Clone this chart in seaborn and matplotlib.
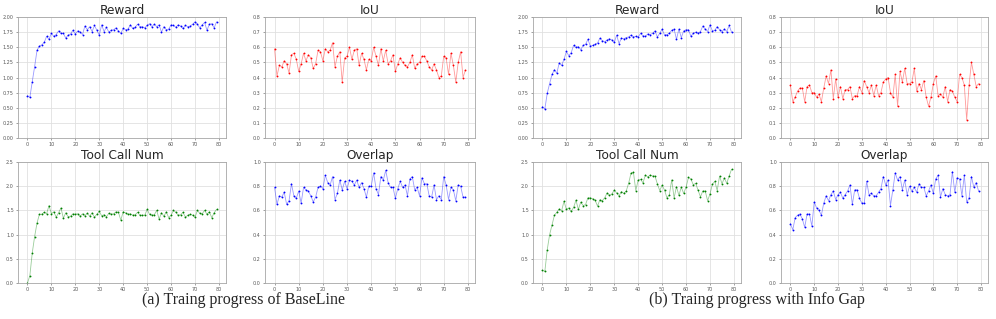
import numpy as np
import pandas as pd
import seaborn as sns
import matplotlib.pyplot as plt

# 数据：从图中估读，每条曲线 80 个点
steps = np.arange(80)

base_reward = [0.70, 0.67, 0.93, 1.18, 1.45, 1.52, 1.54, 1.58, 1.68, 1.63,
               1.73, 1.68, 1.71, 1.77, 1.73, 1.73, 1.65, 1.70, 1.72, 1.78,
               1.72, 1.77, 1.75, 1.71, 1.85, 1.79, 1.84, 1.76, 1.86, 1.78,
               1.70, 1.87, 1.76, 1.83, 1.75, 1.78, 1.79, 1.82, 1.77, 1.73,
               1.81, 1.79, 1.80, 1.87, 1.81, 1.83, 1.88, 1.84, 1.84, 1.82,
               1.86, 1.89, 1.84, 1.88, 1.84, 1.87, 1.75, 1.84, 1.79, 1.80,
               1.87, 1.86, 1.83, 1.87, 1.85, 1.81, 1.86, 1.84, 1.85, 1.88,
               1.92, 1.88, 1.82, 1.87, 1.91, 1.78, 1.88, 1.89, 1.82, 1.92]
base_iou = [0.59, 0.41, 0.48, 0.47, 0.51, 0.49, 0.43, 0.55, 0.56, 0.52,
            0.44, 0.49, 0.56, 0.51, 0.55, 0.53, 0.46, 0.49, 0.58, 0.57,
            0.51, 0.59, 0.57, 0.58, 0.63, 0.47, 0.54, 0.57, 0.37, 0.53,
            0.54, 0.60, 0.52, 0.58, 0.59, 0.48, 0.56, 0.52, 0.45, 0.52,
            0.51, 0.60, 0.54, 0.48, 0.59, 0.51, 0.58, 0.49, 0.51, 0.55,
            0.44, 0.49, 0.53, 0.50, 0.48, 0.47, 0.50, 0.55, 0.46, 0.49,
            0.50, 0.54, 0.54, 0.51, 0.47, 0.45, 0.49, 0.45, 0.40, 0.41,
            0.54, 0.53, 0.42, 0.56, 0.48, 0.37, 0.50, 0.57, 0.40, 0.45]
base_tool = [0.00, 0.15, 0.62, 0.96, 1.24, 1.42, 1.42, 1.46, 1.43, 1.60,
             1.43, 1.47, 1.36, 1.45, 1.55, 1.34, 1.45, 1.37, 1.38, 1.43,
             1.42, 1.43, 1.38, 1.43, 1.39, 1.44, 1.38, 1.45, 1.36, 1.42,
             1.48, 1.39, 1.41, 1.37, 1.44, 1.42, 1.43, 1.47, 1.46, 1.30,
             1.47, 1.45, 1.42, 1.43, 1.40, 1.41, 1.46, 1.40, 1.40, 1.40,
             1.52, 1.42, 1.40, 1.41, 1.50, 1.32, 1.45, 1.38, 1.47, 1.35,
             1.40, 1.50, 1.46, 1.40, 1.41, 1.46, 1.36, 1.40, 1.42, 1.40,
             1.36, 1.50, 1.44, 1.43, 1.50, 1.42, 1.47, 1.35, 1.45, 1.52]
base_overlap = [0.79, 0.65, 0.72, 0.71, 0.75, 0.65, 0.68, 0.82, 0.72, 0.70,
                0.76, 0.66, 0.79, 0.77, 0.76, 0.72, 0.67, 0.71, 0.79, 0.80,
                0.78, 0.89, 0.83, 0.81, 0.88, 0.69, 0.74, 0.85, 0.77, 0.84,
                0.78, 0.85, 0.84, 0.81, 0.85, 0.79, 0.83, 0.78, 0.71, 0.80,
                0.80, 0.91, 0.78, 0.73, 0.88, 0.85, 0.93, 0.83, 0.79, 0.79,
                0.70, 0.78, 0.84, 0.79, 0.81, 0.72, 0.86, 0.88, 0.77, 0.79,
                0.72, 0.87, 0.82, 0.82, 0.72, 0.71, 0.81, 0.69, 0.72, 0.69,
                0.88, 0.81, 0.69, 0.79, 0.77, 0.68, 0.81, 0.80, 0.71, 0.71]

gap_reward = [0.52, 0.48, 0.74, 0.90, 1.05, 1.13, 1.07, 1.24, 1.20, 1.30,
              1.43, 1.36, 1.41, 1.53, 1.50, 1.51, 1.46, 1.53, 1.55, 1.63,
              1.52, 1.53, 1.55, 1.57, 1.65, 1.61, 1.59, 1.62, 1.64, 1.62,
              1.58, 1.70, 1.56, 1.65, 1.64, 1.66, 1.67, 1.70, 1.67, 1.68,
              1.67, 1.73, 1.69, 1.68, 1.72, 1.71, 1.73, 1.77, 1.67, 1.73,
              1.80, 1.70, 1.71, 1.73, 1.78, 1.80, 1.63, 1.80, 1.66, 1.77,
              1.79, 1.79, 1.68, 1.73, 1.75, 1.73, 1.76, 1.85, 1.80, 1.76,
              1.87, 1.77, 1.78, 1.84, 1.79, 1.76, 1.80, 1.76, 1.86, 1.75]
gap_iou = [0.35, 0.24, 0.27, 0.31, 0.33, 0.33, 0.24, 0.34, 0.35, 0.30,
           0.30, 0.27, 0.29, 0.24, 0.33, 0.41, 0.36, 0.45, 0.26, 0.39,
           0.27, 0.34, 0.26, 0.32, 0.32, 0.34, 0.26, 0.28, 0.28, 0.34,
           0.30, 0.38, 0.34, 0.30, 0.35, 0.28, 0.35, 0.28, 0.30, 0.37,
           0.39, 0.40, 0.30, 0.27, 0.42, 0.21, 0.44, 0.37, 0.46, 0.36,
           0.36, 0.37, 0.46, 0.31, 0.36, 0.32, 0.38, 0.27, 0.21, 0.27,
           0.36, 0.41, 0.28, 0.29, 0.27, 0.34, 0.24, 0.32, 0.31, 0.27,
           0.24, 0.42, 0.40, 0.35, 0.12, 0.35, 0.50, 0.42, 0.34, 0.36]
gap_tool = [0.26, 0.24, 0.69, 1.00, 1.20, 1.40, 1.46, 1.53, 1.49, 1.69,
            1.52, 1.55, 1.48, 1.56, 1.71, 1.52, 1.67, 1.60, 1.62, 1.76,
            1.76, 1.74, 1.71, 1.59, 1.72, 1.70, 1.76, 1.86, 1.81, 1.84,
            1.92, 1.86, 1.80, 1.89, 1.85, 1.90, 2.06, 2.27, 2.29, 1.91,
            2.13, 2.14, 2.07, 2.23, 2.19, 2.23, 2.21, 2.21, 2.05, 1.91,
            2.02, 1.92, 1.76, 1.82, 2.13, 1.76, 1.99, 1.81, 1.98, 1.85,
            1.98, 2.18, 2.15, 2.03, 2.06, 1.92, 1.78, 1.90, 1.90, 1.70,
            1.84, 2.04, 2.10, 1.91, 2.21, 2.05, 2.17, 2.06, 2.21, 2.35]
gap_overlap = [0.49, 0.44, 0.54, 0.56, 0.57, 0.53, 0.46, 0.57, 0.57, 0.47,
               0.67, 0.62, 0.60, 0.56, 0.66, 0.72, 0.68, 0.73, 0.76, 0.69,
               0.73, 0.75, 0.70, 0.73, 0.76, 0.81, 0.65, 0.77, 0.77, 0.70,
               0.66, 0.66, 0.84, 0.73, 0.74, 0.72, 0.72, 0.75, 0.78, 0.88,
               0.81, 0.85, 0.64, 0.77, 0.91, 0.85, 0.88, 0.77, 0.85, 0.73,
               0.80, 0.76, 0.79, 0.75, 0.82, 0.79, 0.79, 0.72, 0.76, 0.81,
               0.74, 0.86, 0.89, 0.71, 0.78, 0.73, 0.72, 0.73, 0.92, 0.75,
               0.87, 0.86, 0.72, 0.89, 0.67, 0.70, 0.88, 0.79, 0.83, 0.76]

titles = ["Reward", "IoU", "Tool Call Num", "Overlap"]
colors = ["blue", "red", "green", "blue"]
ylims = [2.0, 0.8, 2.5, 1.0]
captions = ["(a) Traing progress of BaseLine", "(b) Traing progress with Info Gap"]

sns.set_style("whitegrid", {
    "axes.edgecolor": ".65",
    "grid.color": ".88",
    "xtick.bottom": True,
    "ytick.left": True,
})

fig = plt.figure(figsize=(9.96, 3.19), dpi=100)

W, H = 996, 319
col_left = [[18, 265], [533, 781]]
col_width = [[208, 210], [208, 207]]
row_top = [17, 162]
ax_h = 121

groups = [
    [base_reward, base_iou, base_tool, base_overlap],
    [gap_reward, gap_iou, gap_tool, gap_overlap],
]

for g, series in enumerate(groups):
    for k in range(4):
        r, c = divmod(k, 2)
        left = col_left[g][c] / W
        width = col_width[g][c] / W
        bottom = 1 - (row_top[r] + ax_h) / H
        ax = fig.add_axes([left, bottom, width, ax_h / H])
        df = pd.DataFrame({"step": steps, "value": series[k]})
        sns.lineplot(data=df, x="step", y="value", ax=ax, color=colors[k],
                     linewidth=0.6, alpha=0.4)
        sns.scatterplot(data=df, x="step", y="value", ax=ax, color=colors[k],
                        s=1.8, linewidth=0)
        ax.set_ylim(0, ylims[k])
        ax.set_xticks(range(0, 81, 10))
        ax.set_title(titles[k], fontsize=8.7, pad=2)
        ax.set_xlabel("")
        ax.set_ylabel("")
        ax.tick_params(labelsize=3.5, length=1.5, width=0.4, pad=1.5,
                       colors=".35")
        for s in ax.spines.values():
            s.set_linewidth(0.6)
        ax.grid(linewidth=0.6)

fig.text(243 / W, 1 - 300 / H, captions[0], ha="center", va="center",
         fontsize=11.5, family="Liberation Serif")
fig.text(757 / W, 1 - 300 / H, captions[1], ha="center", va="center",
         fontsize=11.5, family="Liberation Serif")

fig.savefig("out.png", dpi=100)
